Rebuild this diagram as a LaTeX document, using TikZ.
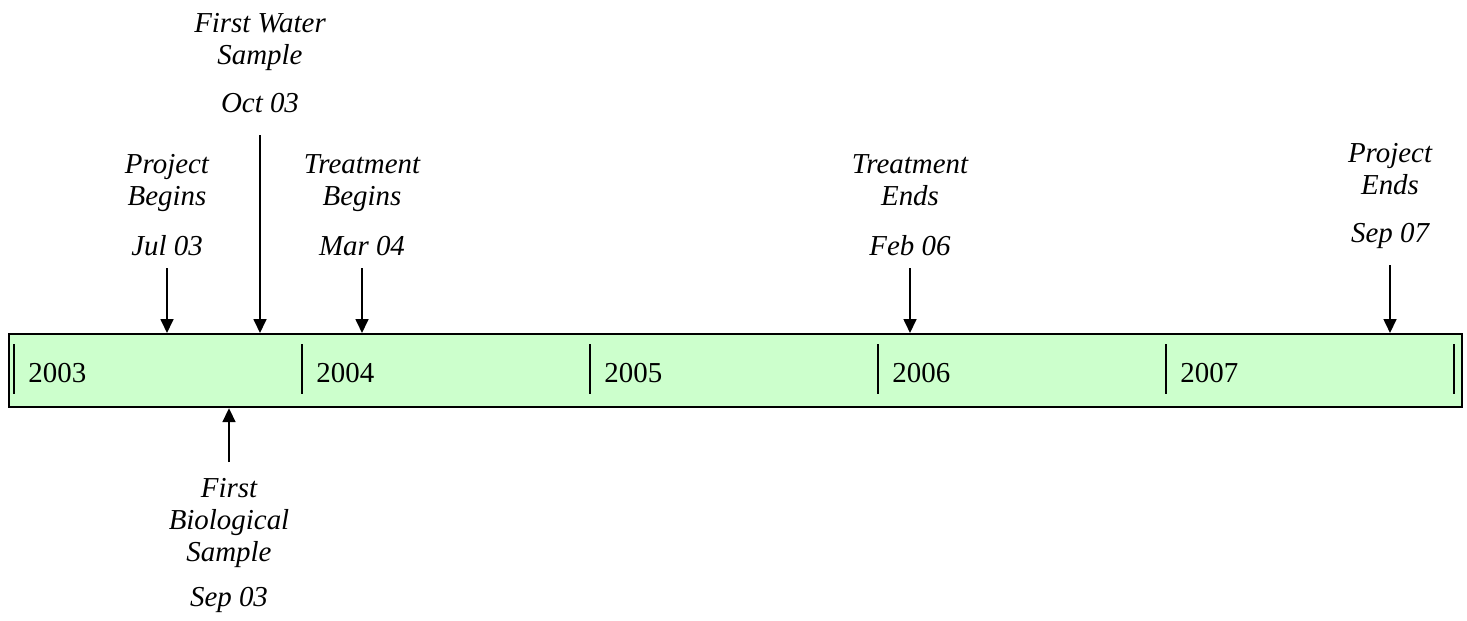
\documentclass[tikz,border=0pt]{standalone}
\usepackage{fontspec}
\setmainfont{Liberation Serif}
\usetikzlibrary{arrows.meta}
\definecolor{barfill}{HTML}{CCFFCC}
\tikzset{>={Triangle[width=6pt,length=6.5pt]}}
\tikzset{
  event/.style={font=\fontsize{13.5}{15}\selectfont\itshape, align=center, anchor=south,
                inner xsep=1pt, inner ysep=5.5pt},
  yearlabel/.style={font=\fontsize{13.5}{15}\selectfont, anchor=base west, inner sep=0pt},
  pointer/.style={->, line width=0.9pt},
}

\begin{document}
\begin{tikzpicture}[x=0.467pt,y=-0.467pt]
    \useasboundingbox (0,0) rectangle (1467,620);
    % the bar
    \node[draw, line width=1pt, fill=barfill, anchor=north west, minimum width=1453*0.467pt,
          minimum height=73*0.467pt, inner sep=0pt] (bar) at (8,333) {};
    \draw[line width=0.9pt] (1454,344)--(1454,394);
    \foreach \yr [count=\i from 0] in {2003,2004,2005,2006,2007}{
        \draw[line width=0.9pt] (14+288*\i,344)--(14+288*\i,394);
        \node[yearlabel] (y\yr) at (28+288*\i,382) {\yr};
    }
    %
    \node[event] (pbeg) at (167,268) {Project\\Begins\\[8.4pt]Jul 03};
    \node[event] (water) at (260,125) {First Water\\Sample\\[7.3pt]Oct 03};
    \node[event] (tbeg) at (362,268) {Treatment\\Begins\\[8.4pt]Mar 04};
    \node[event] (tend) at (910,268) {Treatment\\Ends\\[8.4pt]Feb 06};
    \node[event] (pend) at (1390,261) {Project\\Ends\\[7.3pt]Sep 07};
    \node[event, anchor=north, inner ysep=7.5pt] (bio) at (229,462)
        {First\\Biological\\Sample\\[5.6pt]Sep 03};
    %
    \foreach \ev in {pbeg,tbeg,tend}
        \draw[pointer] (\ev.south) -- (\ev.south |- bar.north);
    \draw[pointer, shorten <=4.7pt] (water.south) -- (water.south |- bar.north);
    \draw[pointer, shorten <=1.9pt] (pend.south) -- (pend.south |- bar.north);
    \draw[pointer] (bio.north) -- (bio.north |- bar.south);
\end{tikzpicture}
\end{document}
